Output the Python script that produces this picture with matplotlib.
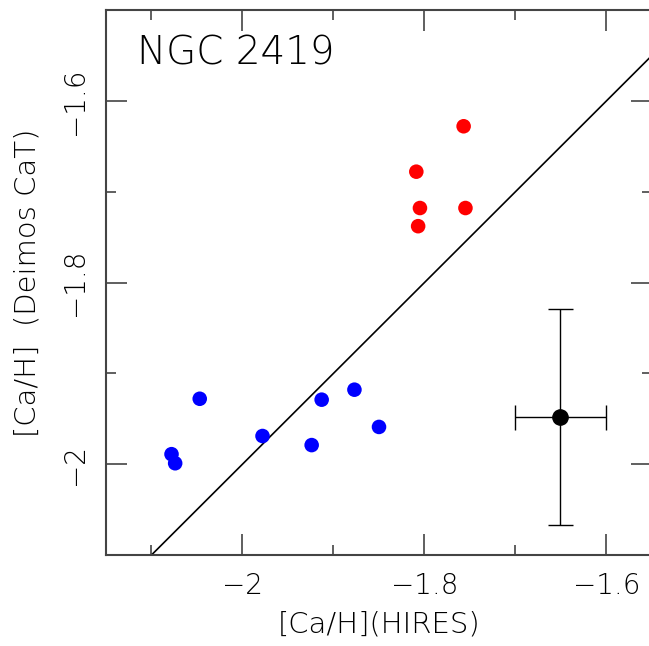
import matplotlib
matplotlib.use("Agg")
import matplotlib.pyplot as plt
from matplotlib.ticker import MultipleLocator

# data
hires_red = [-1.757, -1.809, -1.805, -1.755, -1.807]
deimos_red = [-1.628, -1.678, -1.718, -1.718, -1.738]

hires_blue = [-2.047, -2.078, -2.074, -1.978, -1.924, -1.913, -1.877, -1.850]
deimos_blue = [-1.928, -1.989, -1.999, -1.969, -1.979, -1.929, -1.918, -1.959]

err_x, err_y = -1.651, -1.948
err_dx, err_dy = 0.05, 0.119

one_to_one = [-2.15, -1.5]

plt.rcParams['font.family'] = ['DejaVu Sans']
plt.rcParams['font.weight'] = 'light'
plt.rcParams['axes.labelweight'] = 'light'

fig = plt.figure(figsize=(6.49, 6.46), dpi=100)
ax = fig.add_axes([106 / 649, 91 / 646, 546 / 649, 545 / 646])

ax.plot(one_to_one, one_to_one, color='black', lw=1.2)
ax.scatter(hires_red, deimos_red, s=110, color='#ff0000', edgecolors='none', zorder=3)
ax.scatter(hires_blue, deimos_blue, s=110, color='#0000ff', edgecolors='none', zorder=3)
ax.errorbar(err_x, err_y, xerr=err_dx, yerr=err_dy, fmt='o', color='black',
            ms=11, elinewidth=1.0, capsize=9, capthick=1.0, zorder=3)

ax.set_xlim(-2.15, -1.55)
ax.set_ylim(-2.1, -1.5)

ax.xaxis.set_major_locator(MultipleLocator(0.2))
ax.xaxis.set_minor_locator(MultipleLocator(0.1))
ax.yaxis.set_major_locator(MultipleLocator(0.2))
ax.yaxis.set_minor_locator(MultipleLocator(0.1))

def fmt(v, pos):
    s = ('%g' % round(v, 2))
    return s.replace('-', '\u2212')

ax.xaxis.set_major_formatter(plt.FuncFormatter(fmt))
ax.yaxis.set_major_formatter(plt.FuncFormatter(fmt))

ax.tick_params(which='both', direction='in', top=True, right=True,
               color='#444444', width=1.2, labelsize=20)
ax.tick_params(which='major', length=15, pad=12)
ax.tick_params(which='minor', length=7)
ax.tick_params(axis='y', labelrotation=90)
for lab in ax.get_yticklabels():
    lab.set_va('center')

for sp in ax.spines.values():
    sp.set_color('#444444')
    sp.set_linewidth(1.5)

ax.set_xlabel('[Ca/H](HIRES)', fontsize=21, labelpad=8)
ax.set_ylabel('[Ca/H]  (Deimos CaT)', fontsize=21, labelpad=14)

ax.text(0.057, 0.955, 'NGC 2419', transform=ax.transAxes, fontsize=28,
        ha='left', va='top')

fig.savefig('out.png', dpi=100)
